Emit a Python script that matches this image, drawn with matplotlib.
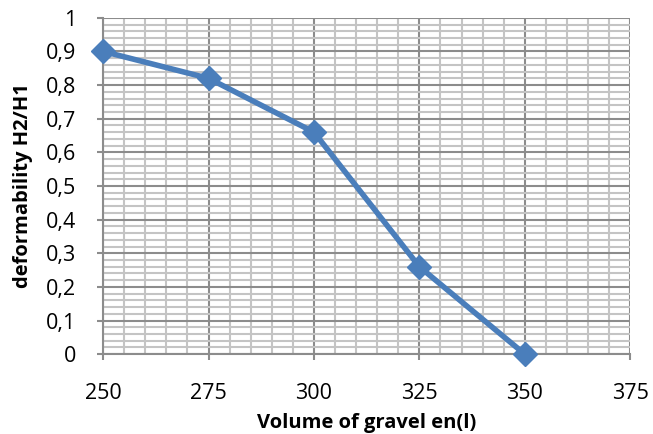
import matplotlib.pyplot as plt
from matplotlib.ticker import MultipleLocator, FuncFormatter

# gravel volume (l) vs deformability ratio
volume = [250, 275, 300, 325, 350]
deformability = [0.9, 0.82, 0.66, 0.26, 0.0]

plt.rcParams["font.family"] = ["Open Sans", "DejaVu Sans"]

fig = plt.figure(figsize=(6.53, 4.34), dpi=100)
ax = fig.add_axes([0.158, 0.184, 0.807, 0.775])

ax.plot(volume, deformability, color="#4A7EBB", linewidth=4,
        marker="D", markersize=12, markerfacecolor="#4A7EBB",
        markeredgecolor="#4A7EBB", zorder=5, clip_on=False)

ax.set_xlim(250, 375)
ax.set_ylim(0, 1)

ax.xaxis.set_major_locator(MultipleLocator(25))
ax.xaxis.set_minor_locator(MultipleLocator(5))
ax.yaxis.set_major_locator(MultipleLocator(0.1))
ax.yaxis.set_minor_locator(MultipleLocator(0.02))

def comma_fmt(v, pos):
    s = f"{v:.1f}".rstrip("0").rstrip(".")
    return s.replace(".", ",")

ax.yaxis.set_major_formatter(FuncFormatter(comma_fmt))

ax.grid(which="minor", color="#C4C4C4", linewidth=1.5, zorder=0)
ax.grid(which="major", color="#8C8C8C", linewidth=1.5, zorder=1)
ax.set_axisbelow(True)

for side in ["top", "right"]:
    ax.spines[side].set_visible(False)
for side in ["left", "bottom"]:
    ax.spines[side].set_color("#8C8C8C")
    ax.spines[side].set_linewidth(1.5)

ax.tick_params(which="major", direction="out", length=4.5, width=1.5,
               color="#8C8C8C", labelsize=15.5)
ax.tick_params(axis="y", which="major", pad=15)
ax.tick_params(axis="x", which="major", pad=16)
ax.tick_params(which="minor", length=0)

ax.set_xlabel("Volume of gravel en(l)", fontsize=14.5, fontweight="bold", labelpad=7)
ax.set_ylabel("deformability H2/H1", fontsize=14.5, fontweight="bold", labelpad=9)

fig.savefig("out.png", dpi=100)
